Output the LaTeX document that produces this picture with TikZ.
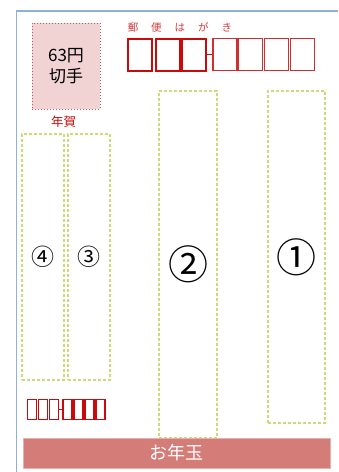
\documentclass[tikz,border=0pt]{standalone}
\usepackage{fontspec}
\setmainfont{Noto Sans CJK JP}
\definecolor{cardblue}{HTML}{8FB0D8}
\definecolor{zipred}{HTML}{C80A0A}
\definecolor{stampfill}{HTML}{F2D3D3}
\definecolor{stampline}{HTML}{C05A5A}
\definecolor{fieldgreen}{HTML}{C8DC78}
\definecolor{barred}{HTML}{D47C78}
\begin{document}
\begin{tikzpicture}[x=1pt,y=-1pt,
  field/.style={draw=fieldgreen,line width=1.2pt,dash pattern=on 3pt off 2pt,inner sep=0pt},
  zipbig/.style={draw=zipred,line width=1.6pt,minimum width=24pt,minimum height=32pt,inner sep=0pt},
  zipsmall/.style={draw=zipred,line width=1.1pt,minimum width=9pt,minimum height=19.5pt,inner sep=0pt}]
\useasboundingbox (0,0) rectangle (338,472);
% card edge
\draw[cardblue,line width=1.5pt] (338,11) -- (16.5,11) -- (16.5,472);
% stamp
\node[fill=stampfill,draw=stampline,dotted,line width=1pt,minimum width=68pt,minimum height=86pt,
  align=center,font=\fontsize{17}{21}\selectfont] (stamp) at (66,66) {63円\\切手};
\node[text=zipred,font=\fontsize{12.5}{14}\selectfont] (nenga) at (63.5,122) {年賀};
% postal code
\node[text=zipred!80,font=\fontsize{10.5}{12}\selectfont] (yubin) at (180,27)
  {郵\hspace{13pt}便\hspace{13pt}は\hspace{13pt}が\hspace{13pt}き};
\foreach \i/\x in {1/140,2/167.5,3/193.5}
  \node[zipbig,line width=2pt] (z\i) at (\x,54.5) {};
\foreach \i/\x in {4/225,5/250.7,6/276.7,7/302.7}
  \node[zipbig,line width=1.3pt,draw=zipred!85] (z\i) at (\x,54.5) {};
\draw[zipred,line width=1.5pt] (z3.east) -- (z4.west);
% address fields
\node[field,minimum width=57pt,minimum height=332pt,font=\fontsize{40}{40}\selectfont] (f1) at (296.5,257) {①};
\node[field,minimum width=58pt,minimum height=347pt,font=\fontsize{40}{40}\selectfont] (f2) at (188,264.5) {②};
\node[field,minimum width=42pt,minimum height=246pt,font=\fontsize{23}{23}\selectfont] (f3) at (89,257) {③};
\node[field,minimum width=42pt,minimum height=246pt,font=\fontsize{23}{23}\selectfont] (f4) at (43,257) {④};
% sender postal code
\foreach \i/\x in {1/32,2/43,3/54}
  \node[zipsmall] (s\i) at (\x,409.5) {};
\foreach \i/\x in {4/67.5,5/78.5,6/89.5,7/100.5}
  \node[zipsmall] (s\i) at (\x,409.5) {};
\draw[zipred,line width=1pt] (s3.east) -- (s4.west);
% lottery bar
\node[fill=barred,draw=barred!60,minimum width=307pt,minimum height=30pt,text=white,
  font=\fontsize{18}{18}\selectfont] (otoshidama) at (176.5,453) {お年玉};
\end{tikzpicture}
\end{document}
